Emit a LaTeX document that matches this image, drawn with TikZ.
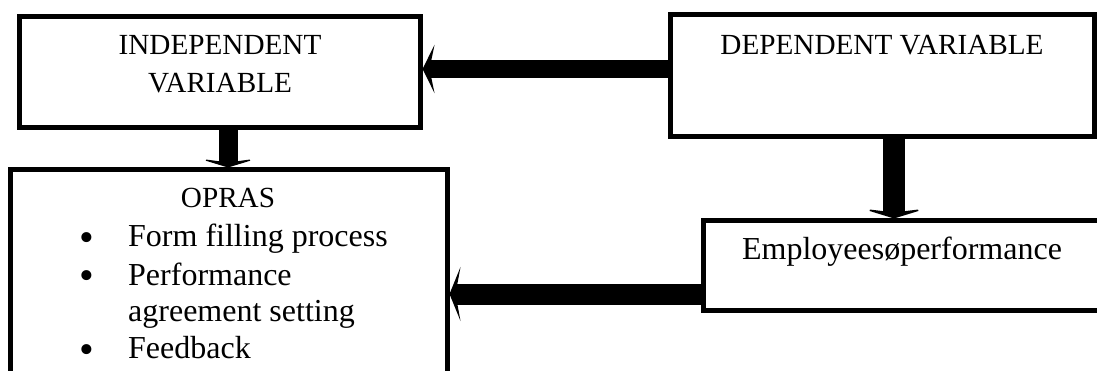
\documentclass[tikz,border=0pt]{standalone}
\usepackage{fontspec}
\setmainfont{Liberation Serif}
\usetikzlibrary{arrows.meta}
\begin{document}
\begin{tikzpicture}[x=1pt,y=-1pt,
  box/.style={draw, line width=5pt, inner sep=0pt, rectangle},
  hd/.style={inner sep=0pt, anchor=base, font=\fontsize{29.2}{35}\selectfont},
  bd/.style={inner sep=0pt, anchor=base west, font=\fontsize{32}{38}\selectfont},
  tx/.style={inner sep=0pt, anchor=base, font=\fontsize{32}{38}\selectfont},
  bu/.style={inner sep=0pt, anchor=base, font=\fontsize{42}{48}\selectfont},
  bigarrow/.style n args={4}{line width=#1, -{Stealth[length=#2,width=#3,inset=#4]}}
]
\useasboundingbox (0,0) rectangle (1097,371);

% boxes
\node[box, minimum width=400.5pt, minimum height=111.5pt] (iv) at (219.75,72.25) {};
\node[box, minimum width=424.5pt, minimum height=122pt] (dv) at (882.25,76) {};
\node[box, minimum width=436.5pt, minimum height=250pt] (opras) at (228.75,295) {};
\node[box, minimum width=407pt, minimum height=89pt] (emp) at (906.5,265.5) {};

% texts
\node[hd] (t1) at (220,55) {INDEPENDENT};
\node[hd] (t2) at (220,93) {VARIABLE};
\node[hd] (t3) at (882,55) {DEPENDENT VARIABLE};
\node[hd] (t4) at (228,208) {OPRAS};
\node[bu] (b1) at (87,252) {•};
\node[bd] (l1) at (128,247) {Form filling process};
\node[bu] (b2) at (87,290) {•};
\node[bd] (l2) at (128,285) {Performance};
\node[bd] (l3) at (128,321) {agreement setting};
\node[bu] (b3) at (87,363) {•};
\node[bd] (l4) at (128,358) {Feedback};
\node[tx] (t5) at (902,260) {Employeesøperformance};

% helper coordinates for connector alignment
\coordinate (a1) at (0,69);
\coordinate (a2) at (228,0);
\coordinate (a3) at (894,0);
\coordinate (a4) at (0,294);

% connectors
\draw[bigarrow={18pt}{12pt}{48pt}{5pt}] (dv.west |- a1) -- (iv.east |- a1);
\draw[bigarrow={19pt}{9pt}{59pt}{4pt}] (iv.south -| a2) -- (opras.north -| a2);
\draw[bigarrow={22pt}{10pt}{65pt}{4pt}] (dv.south -| a3) -- (emp.north -| a3);
\draw[bigarrow={21pt}{11pt}{54pt}{5pt}] (emp.west |- a4) -- (opras.east |- a4);
\end{tikzpicture}
\end{document}
